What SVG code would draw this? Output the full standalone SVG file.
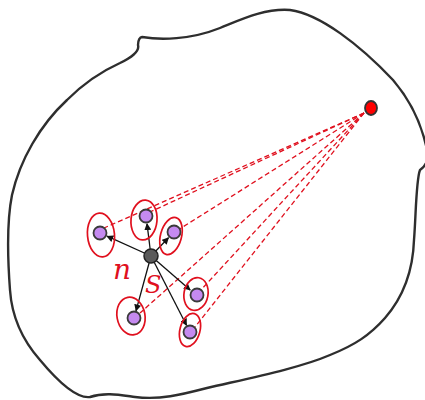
<svg xmlns="http://www.w3.org/2000/svg" width="425" height="400" viewBox="0 0 425 400">
<style>
.blob{fill:none;stroke:#2e2e2e;stroke-width:2.4;stroke-linejoin:round}
.ring{fill:none;stroke:#e0101e;stroke-width:1.7}
.p{fill:#c58af0;stroke:#3a3a3a;stroke-width:1.8}
.dash{stroke:#e0101e;stroke-width:1.3;stroke-dasharray:5 3;fill:none}
.arr{stroke:#111;stroke-width:1.3;fill:none;marker-end:url(#ah)}
.lbl{fill:#e0101e;font-family:"DejaVu Serif","Liberation Serif",serif;font-style:italic}
</style>
<defs>
<marker id="ah" viewBox="0 0 10 10" refX="9" refY="5" markerWidth="7" markerHeight="7" markerUnits="userSpaceOnUse" orient="auto">
<path d="M0,0 L10,5 L0,10 z" fill="#111"/>
</marker>
</defs>
<rect width="425" height="400" fill="#fff"/>
<path class="blob" d="M142,37 C160,40 190,40 220,28 C240,20 265,8 290,10 C320,14 360,45 393,80 C410,100 422,125 427,150 C429,160 426,166 420,170 C416,180 416,215 414,240 C413,270 405,295 385,318 C370,335 355,345 330,355 C300,368 250,378 207,388 C180,395 160,400 135,397 C120,395 105,392 90,397 C75,399 55,378 40,360 C25,343 12,320 10,290 C7,250 8,215 12,195 C20,160 40,125 67,100 C85,82 100,72 120,63 C130,58 140,52 138,45 C138,40 140,37 142,37 Z"/>
<g id="connectors">
<line class="dash" x1="364" y1="113" x2="104" y2="228"/>
<line class="dash" x1="364" y1="113" x2="150" y2="212"/>
<line class="dash" x1="364" y1="113" x2="178" y2="230"/>
<line class="dash" x1="364" y1="113" x2="200" y2="291"/>
<line class="dash" x1="364" y1="113" x2="140" y2="313"/>
<line class="dash" x1="364" y1="113" x2="195" y2="327"/>
<line class="arr" x1="151" y1="256" x2="107" y2="236.2"/>
<line class="arr" x1="151" y1="256" x2="147" y2="223.8"/>
<line class="arr" x1="151" y1="256" x2="168.5" y2="237.7"/>
<line class="arr" x1="151" y1="256" x2="190.2" y2="290"/>
<line class="arr" x1="151" y1="256" x2="136" y2="310.8"/>
<line class="arr" x1="151" y1="256" x2="186.5" y2="325.3"/>
</g>
<g id="node-red"><ellipse cx="371" cy="108" rx="6" ry="7" fill="#ff0000" stroke="#333" stroke-width="1.8"/></g>
<g id="node-center"><circle cx="151" cy="256" r="7" fill="#5a5a5a" stroke="#222" stroke-width="1.5"/></g>
<g id="node-a"><ellipse class="ring" cx="101" cy="235" rx="13.5" ry="22" transform="rotate(-5 101 235)"/><circle class="p" cx="100" cy="233" r="6.5"/></g>
<g id="node-b"><ellipse class="ring" cx="144" cy="220" rx="13" ry="20" transform="rotate(5 144 220)"/><circle class="p" cx="146" cy="216" r="6.5"/></g>
<g id="node-c"><ellipse class="ring" cx="171" cy="236" rx="10.5" ry="19" transform="rotate(15 171 236)"/><circle class="p" cx="174" cy="232" r="6.5"/></g>
<g id="node-d"><ellipse class="ring" cx="196" cy="294" rx="12" ry="16.5" transform="rotate(10 196 294)"/><circle class="p" cx="197" cy="295" r="6.5"/></g>
<g id="node-e"><ellipse class="ring" cx="131" cy="316" rx="14" ry="19" transform="rotate(-10 131 316)"/><circle class="p" cx="134" cy="318" r="6.5"/></g>
<g id="node-f"><ellipse class="ring" cx="190" cy="330" rx="10" ry="17" transform="rotate(15 190 330)"/><circle class="p" cx="190" cy="332" r="6.5"/></g>
<text class="lbl" x="113" y="279" font-size="28">n</text>
<text class="lbl" x="145" y="293" font-size="24">S</text>
</svg>
